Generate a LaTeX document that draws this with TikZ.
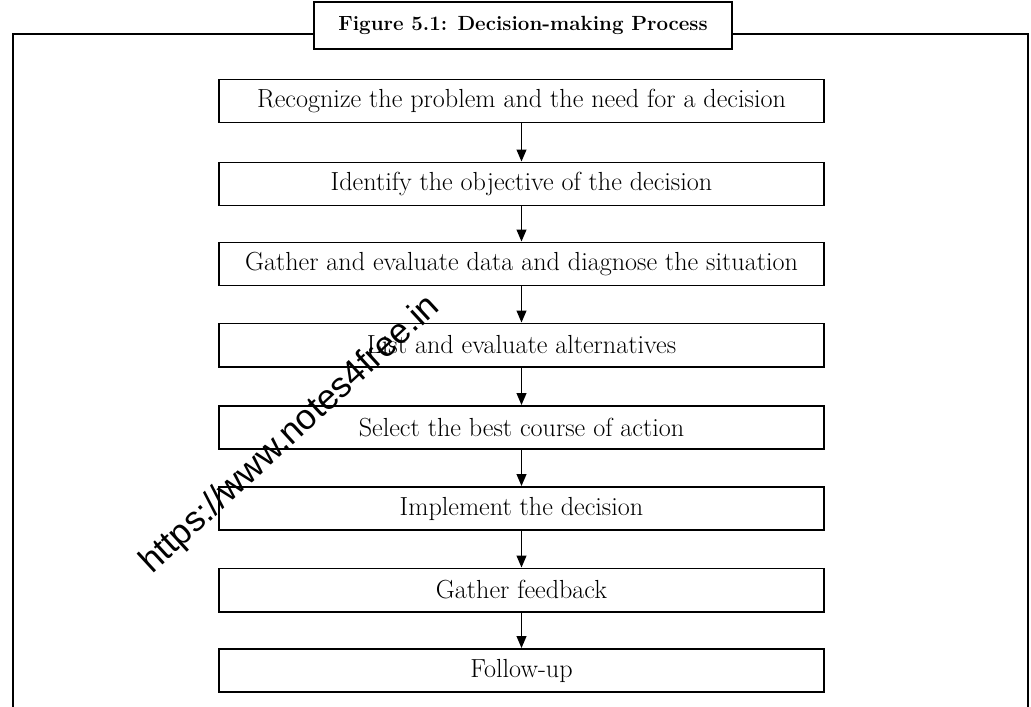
\documentclass[tikz,border=0pt]{standalone}
\usepackage{fontspec}
\newfontfamily\wmfont{Liberation Sans}
\usetikzlibrary{positioning}
\usetikzlibrary{arrows.meta}
\tikzset{
  stepbox/.style={draw, line width=1.4pt, fill=white, inner sep=0pt,
    minimum width=15.125cm, minimum height=1.075cm,
    font=\fontsize{18.6}{22}\selectfont},
  titlebox/.style={draw, line width=1.8pt, fill=white, inner sep=0pt,
    minimum width=10.45cm, minimum height=1.175cm,
    font=\fontsize{14.6}{18}\selectfont\bfseries},
  flowarrow/.style={line width=1pt, -{Triangle[length=8.5pt,width=7pt]}}
}

\begin{document}
\begin{tikzpicture}[x=0.025cm,y=-0.025cm]
            \clip (0,0) rectangle (1031,706) ;
            % outer frame
            \draw[line width=1.8pt] (13,720) -- (13,34) -- (1028,34) -- (1028,720) ;
            % caption
            \node[titlebox] at (523,25.5) (ntitle) {Figure 5.1: Decision-making Process} ;
            % process steps
            \node[stepbox] at (521.5,101)   (nstep1) {Recognize the problem and the need for a decision} ;
            \node[stepbox] at (521.5,184)   (nstep2) {Identify the objective of the decision} ;
            \node[stepbox] at (521.5,264)   (nstep3) {Gather and evaluate data and diagnose the situation} ;
            \node[stepbox] at (521.5,345)   (nstep4) {List and evaluate alternatives} ;
            \node[stepbox] at (521.5,427.5) (nstep5) {Select the best course of action} ;
            \node[stepbox] at (521.5,508.5) (nstep6) {Implement the decision} ;
            \node[stepbox] at (521.5,590)   (nstep7) {Gather feedback} ;
            \node[stepbox] at (521.5,670.5) (nstep8) {Follow-up} ;
            % arrows between steps
            \draw[flowarrow] (nstep1) -- (nstep2) ;
            \draw[flowarrow] (nstep2) -- (nstep3) ;
            \draw[flowarrow] (nstep3) -- (nstep4) ;
            \draw[flowarrow] (nstep4) -- (nstep5) ;
            \draw[flowarrow] (nstep5) -- (nstep6) ;
            \draw[flowarrow] (nstep6) -- (nstep7) ;
            \draw[flowarrow] (nstep7) -- (nstep8) ;
            % watermark
            \node[rotate=42.6] at (290.5,435) (nmark) {\wmfont\fontsize{25}{30}\selectfont https://www.notes4free.in} ;
\end{tikzpicture}
\end{document}
